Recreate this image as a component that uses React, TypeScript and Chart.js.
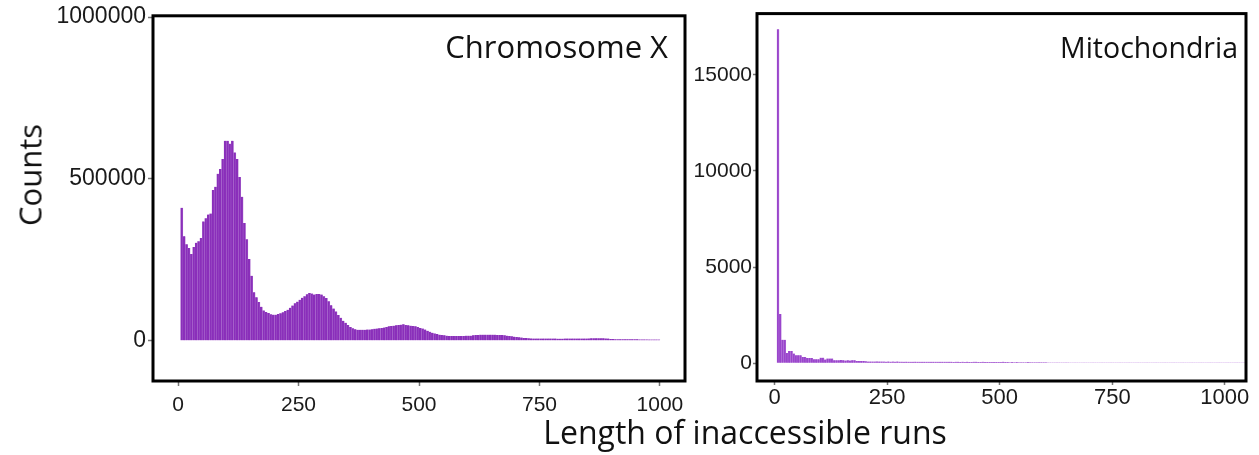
import React, { useEffect, useRef } from "react";
import { Chart, registerables } from "chart.js";

Chart.register(...registerables);

// Histogram bins: run lengths are grouped into bins of 5, the first bin starting at 5.
const BIN_WIDTH = 5;
const FIRST_BIN = 5;

// Chromosome X: counts per length bin (5, 10, 15, ... 995).
const chrXCounts = [
  411000, 323000, 298000, 287000, 268000, 290000, 303000, 308000, 318000, 369000,
  379000, 390000, 393000, 466000, 476000, 516000, 531000, 562000, 618000, 618000,
  609000, 618000, 582000, 562000, 506000, 445000, 364000, 314000, 253000, 201000,
  150000, 135000, 120000, 105000, 94000, 89000, 86000, 82000, 81000, 81000,
  83000, 85000, 88000, 92000, 96000, 102000, 109000, 116000, 121000, 127000,
  133000, 138000, 144000, 148000, 146000, 143000, 145000, 145000, 143000, 138000,
  132000, 122000, 110000, 100000, 91000, 80000, 71000, 62000, 56000, 49000,
  43000, 39000, 36000, 34000, 34000, 34000, 34000, 35000, 35000, 36000,
  37000, 38000, 39000, 40000, 41000, 43000, 45000, 46000, 47000, 48000,
  49000, 50000, 51000, 49000, 48000, 47000, 46000, 45000, 43000, 40000,
  38000, 35000, 31000, 28000, 25000, 23000, 21000, 19000, 18000, 17000,
  16000, 15000, 15000, 15000, 15000, 15000, 15000, 15000, 16000, 16000,
  16000, 17000, 18000, 18000, 19000, 19000, 19000, 19000, 19000, 19000,
  19000, 18000, 18000, 18000, 17000, 16000, 15000, 14000, 13000, 12000,
  11000, 10000, 9000, 8500, 8000, 7500, 7000, 7000, 7000, 7000,
  7000, 7000, 7000, 7000, 7000, 7000, 6800, 6800, 6800, 7000,
  7000, 7000, 7000, 7000, 7000, 7000, 7000, 7000, 7000, 7500,
  8000, 8000, 8000, 8000, 8000, 8000, 7500, 7000, 6000, 5500,
  5000, 5000, 5000, 5000, 5000, 4800, 4800, 4800, 4600, 4600,
  4500, 4500, 4400, 4400, 4300, 4300, 4200, 4200, 4100,
];

// Mitochondria: counts per length bin (5, 10, 15, ... 1040).
const mitoCounts = [
  17360, 2560, 1220, 1220, 530, 630, 630, 500, 410, 410,
  410, 320, 320, 270, 270, 270, 205, 205, 205, 290,
  290, 190, 240, 240, 240, 150, 160, 150, 170, 150,
  140, 160, 140, 150, 150, 120, 120, 120, 120, 100,
  90, 90, 85, 90, 95, 85, 90, 85, 80, 85,
  80, 85, 80, 85, 80, 80, 75, 80, 75, 75,
  75, 80, 75, 70, 75, 75, 70, 75, 70, 70,
  70, 75, 70, 70, 70, 75, 70, 70, 65, 70,
  70, 65, 75, 65, 70, 65, 65, 70, 75, 65,
  65, 75, 65, 60, 65, 60, 60, 65, 60, 60,
  70, 60, 60, 55, 60, 55, 60, 55, 55, 55,
  55, 60, 55, 55, 50, 50, 50, 50, 50, 50,
  40, 40, 40, 40, 40, 40, 40, 40, 40, 40,
  35, 35, 35, 35, 35, 35, 35, 35, 35, 35,
  35, 35, 35, 35, 35, 35, 35, 35, 35, 35,
  35, 35, 35, 35, 35, 35, 35, 35, 35, 35,
  35, 35, 35, 35, 35, 35, 35, 35, 35, 35,
  35, 35, 35, 35, 35, 35, 35, 35, 35, 35,
  35, 35, 35, 35, 35, 35, 35, 35, 35, 35,
  35, 35, 35, 35, 35, 35, 35, 35, 35, 35,
  35, 35, 35, 35, 35, 35, 35, 35,
];

const lengthTicks = [0, 250, 500, 750, 1000];
const chrXCountTicks = [0, 500000, 1000000];
const mitoCountTicks = [0, 5000, 10000, 15000];

const TICK_FONT = "'Liberation Sans', Arial, Helvetica, sans-serif";
const TITLE_FONT = "'Open Sans', 'Noto Sans', sans-serif";

const binPoints = (counts: number[]) =>
  counts.map((c, i) => ({ x: FIRST_BIN + i * BIN_WIDTH + BIN_WIDTH / 2, y: c }));

// Black box drawn round each panel's plotting area.
const framePlugin = {
  id: "panelFrame",
  afterDatasetsDraw(chart: any) {
    const { ctx, chartArea: a } = chart;
    ctx.save();
    ctx.strokeStyle = "#000";
    ctx.lineWidth = 3;
    ctx.strokeRect(a.left, a.top, a.right - a.left, a.bottom - a.top);
    ctx.restore();
  },
};

// Panel name written in the top-right corner inside the box.
const panelLabelPlugin = {
  id: "panelLabel",
  afterDraw(chart: any, _args: any, opts: any) {
    if (!opts || !opts.text) return;
    const { ctx, chartArea: a } = chart;
    ctx.save();
    ctx.font = `${opts.size}px ${TITLE_FONT}`;
    ctx.fillStyle = "#111";
    ctx.textAlign = "right";
    ctx.textBaseline = "middle";
    ctx.fillText(opts.text, a.right - opts.dx, a.top + opts.dy);
    ctx.restore();
  },
};

type PanelSpec = {
  counts: number[];
  color: string;
  edge: string;
  xMin: number;
  xMax: number;
  yMin: number;
  yMax: number;
  yTicks: number[];
  yAxisWidth: number;
  xAxisHeight: number;
  padTop: number;
  padRight: number;
  yFontSize: number;
  xFontSize: number;
  yTickLength: number;
  yTickPad: number;
  xTickLength: number;
  xTickPad: number;
  label: { text: string; size: number; dx: number; dy: number };
};

function makeConfig(p: PanelSpec): any {
  return {
    type: "bar",
    data: {
      datasets: [
        {
          data: binPoints(p.counts),
          backgroundColor: p.color,
          borderColor: p.edge,
          borderWidth: { left: 0, right: 0.6, top: 0, bottom: 0 },
          borderSkipped: false,
          barPercentage: 1,
          categoryPercentage: 1,
        },
      ],
    },
    options: {
      animation: false,
      responsive: false,
      devicePixelRatio: 1,
      layout: { padding: { left: 0, top: p.padTop, right: p.padRight, bottom: 0 } },
      plugins: {
        legend: { display: false },
        tooltip: { enabled: false },
        panelLabel: p.label,
      },
      scales: {
        x: {
          type: "linear",
          min: p.xMin,
          max: p.xMax,
          offset: false,
          afterBuildTicks: (s: any) => {
            s.ticks = lengthTicks.map((v) => ({ value: v }));
          },
          afterFit: (s: any) => {
            s.height = p.xAxisHeight;
          },
          grid: {
            offset: false,
            drawOnChartArea: false,
            drawTicks: true,
            tickLength: p.xTickLength,
            tickColor: "#777",
            tickWidth: 1.5,
          },
          border: { display: false },
          ticks: {
            autoSkip: false,
            maxRotation: 0,
            padding: p.xTickPad,
            color: "#1a1a1a",
            font: { family: TICK_FONT, size: p.xFontSize },
            callback: (v: any) => String(v),
          },
        },
        y: {
          type: "linear",
          min: p.yMin,
          max: p.yMax,
          afterBuildTicks: (s: any) => {
            s.ticks = p.yTicks.map((v) => ({ value: v }));
          },
          afterFit: (s: any) => {
            s.width = p.yAxisWidth;
          },
          grid: {
            drawOnChartArea: false,
            drawTicks: true,
            tickLength: p.yTickLength,
            tickColor: "#777",
            tickWidth: 1.5,
          },
          border: { display: false },
          ticks: {
            padding: p.yTickPad,
            color: "#1a1a1a",
            font: { family: TICK_FONT, size: p.yFontSize },
            callback: (v: any) => String(v),
          },
        },
      },
    },
    plugins: [framePlugin, panelLabelPlugin],
  };
}

const chrXPanel: PanelSpec = {
  counts: chrXCounts,
  color: "#8a2fba",
  edge: "#a664cc",
  xMin: -52,
  xMax: 1052,
  yMin: -124000,
  yMax: 1004000,
  yTicks: chrXCountTicks,
  yAxisWidth: 153,
  xAxisHeight: 74,
  padTop: 12,
  padRight: 15,
  yFontSize: 23,
  xFontSize: 21,
  yTickLength: 5,
  yTickPad: 2,
  xTickLength: 5,
  xTickPad: 7,
  label: { text: "Chromosome X", size: 31, dx: 17, dy: 33 },
};

const mitoPanel: PanelSpec = {
  counts: mitoCounts,
  color: "#9a45cc",
  edge: "#b57ad8",
  xMin: -39,
  xMax: 1047,
  yMin: -925,
  yMax: 18180,
  yTicks: mitoCountTicks,
  yAxisWidth: 69,
  xAxisHeight: 74,
  padTop: 9,
  padRight: 13,
  yFontSize: 21,
  xFontSize: 22,
  yTickLength: 4,
  yTickPad: 1,
  xTickLength: 4,
  xTickPad: 0,
  label: { text: "Mitochondria", size: 28.5, dx: 8, dy: 36 },
};

function Panel({ spec, left, width }: { spec: PanelSpec; left: number; width: number }) {
  const ref = useRef<HTMLCanvasElement | null>(null);
  useEffect(() => {
    if (!ref.current) return;
    const chart = new Chart(ref.current, makeConfig(spec));
    return () => chart.destroy();
  }, [spec]);
  return (
    <canvas
      ref={ref}
      width={width}
      height={455}
      style={{ position: "absolute", left, top: 0, width, height: 455 }}
    />
  );
}

export default function App() {
  return (
    <div
      style={{
        position: "absolute",
        left: 0,
        top: 0,
        width: 1259,
        height: 455,
        background: "#fff",
        overflow: "hidden",
      }}
    >
      <Panel spec={chrXPanel} left={0} width={700} />
      <Panel spec={mitoPanel} left={688} width={571} />
      <div
        style={{
          position: "absolute",
          left: 30,
          top: 175,
          transform: "translate(-50%, -50%) rotate(-90deg)",
          fontFamily: TITLE_FONT,
          fontSize: 31,
          color: "#111",
          whiteSpace: "nowrap",
          lineHeight: 1,
        }}
      >
        Counts
      </div>
      <div
        style={{
          position: "absolute",
          left: 745,
          top: 432,
          transform: "translate(-50%, -50%)",
          fontFamily: TITLE_FONT,
          fontSize: 32,
          color: "#111",
          whiteSpace: "nowrap",
          lineHeight: 1,
        }}
      >
        Length of inaccessible runs
      </div>
    </div>
  );
}
